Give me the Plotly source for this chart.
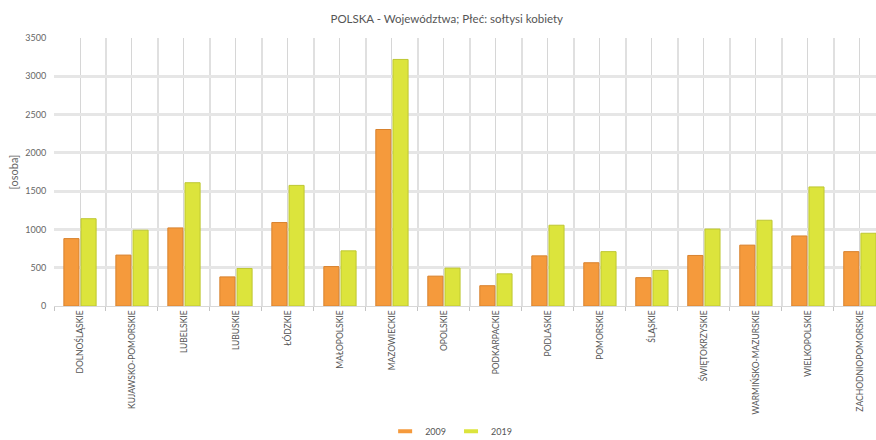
import plotly.graph_objects as go

categories = ["DOLNOŚLĄSKIE", "KUJAWSKO-POMORSKIE", "LUBELSKIE", "LUBUSKIE", "ŁÓDZKIE",
              "MAŁOPOLSKIE", "MAZOWIECKIE", "OPOLSKIE", "PODKARPACKIE", "PODLASKIE",
              "POMORSKIE", "ŚLĄSKIE", "ŚWIĘTOKRZYSKIE", "WARMIŃSKO-MAZURSKIE",
              "WIELKOPOLSKIE", "ZACHODNIOPOMORSKIE"]
values_2009 = [880, 665, 1020, 380, 1090, 515, 2305, 390, 265, 655, 565, 370, 660, 795, 915, 710]
values_2019 = [1140, 990, 1610, 490, 1575, 720, 3220, 495, 420, 1055, 710, 465, 1005, 1120, 1555, 950]
series_names = ["2009", "2019"]
y_ticks = [0, 500, 1000, 1500, 2000, 2500, 3000, 3500]

x_pos = list(range(len(categories)))
boundaries = [i - 0.5 for i in range(len(categories) + 1)]

orange = "#F59A3C"
orange_line = "#D8822E"
green = "#DCE43C"
green_line = "#BEC732"

fig = go.Figure()
fig.add_trace(go.Bar(x=x_pos, y=values_2009, name=series_names[0], showlegend=False,
                     marker=dict(color=orange, line=dict(color=orange_line, width=1))))
fig.add_trace(go.Bar(x=x_pos, y=values_2019, name=series_names[1], showlegend=False,
                     marker=dict(color=green, line=dict(color=green_line, width=1))))
for name, col in zip(series_names, [orange, green]):
    fig.add_trace(go.Scatter(x=[None], y=[None], name=name, mode="markers",
                             marker=dict(symbol="line-ew", size=10,
                                         line=dict(color=col, width=4))))

fig.update_layout(
    width=876, height=440,
    margin=dict(l=54, r=0, t=38, b=134, autoexpand=False),
    paper_bgcolor="white", plot_bgcolor="white",
    barmode="group", bargap=0.34, bargroupgap=0.12,
    font=dict(family="Lato", color="#666666"),
    title=dict(text="POLSKA - Województwa; Płeć: sołtysi kobiety",
               x=0.51, xanchor="center", y=0.957, yanchor="middle",
               font=dict(family="Lato", size=11.5, color="#555555")),
    legend=dict(orientation="h", xref="container", x=0.515, xanchor="center",
                yref="container", y=0.02, yanchor="middle",
                font=dict(size=9, color="#555555"),
                itemwidth=30, tracegroupgap=0),
)
fig.update_xaxes(
    range=[-0.5, 15.31], automargin=False,
    tickmode="array", tickvals=x_pos, ticktext=categories,
    tickangle=-90, tickfont=dict(size=8.5, color="#555555"),
    showgrid=True, gridcolor="#d6d6d6", gridwidth=1,
    ticks="", zeroline=False,
    showline=True, linecolor="#d8d8d8", linewidth=1,
    minor=dict(tickmode="array", tickvals=boundaries, showgrid=True,
               gridcolor="#e0e0e0", gridwidth=2, ticks="outside",
               ticklen=4, tickcolor="#c4c4c4"),
    fixedrange=True,
)
fig.update_yaxes(
    range=[0, 3500], tickmode="array", tickvals=y_ticks, automargin=False,
    tickfont=dict(size=9, color="#666666"),
    showgrid=True, gridcolor="#e6e6e6", gridwidth=2.5,
    zeroline=False, ticks="outside", ticklen=5, tickcolor="white",
    title=dict(text="[osoba]", font=dict(size=11, color="#666666"), standoff=4),
)

fig.write_html("out.html", config={"displayModeBar": False},
               post_script="document.body.style.margin='0';")
